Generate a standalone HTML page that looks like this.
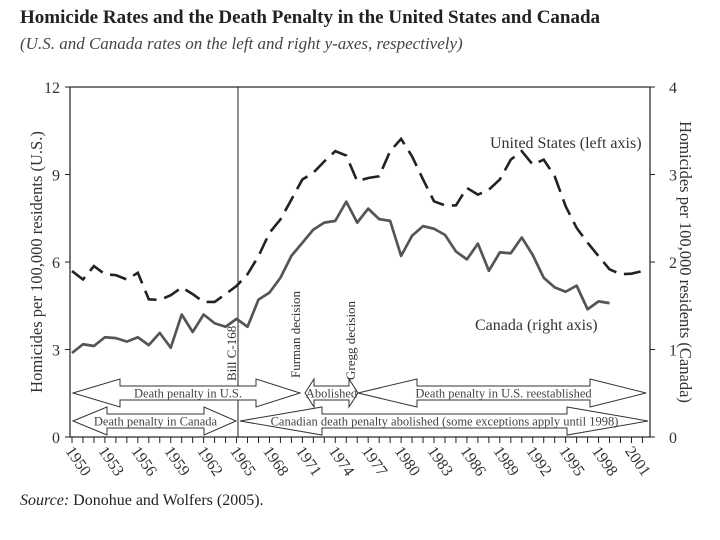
<!DOCTYPE html>
<html><head><meta charset="utf-8"><style>
body{margin:0;background:#fff;width:720px;height:540px;overflow:hidden}
svg{display:block;font-family:"Liberation Serif",serif}
text{font-family:"Liberation Serif",serif}
</style></head><body>
<svg id="c" width="720" height="540">
<text x="20" y="23" font-size="19" font-weight="bold" fill="#222" font-family="Liberation Serif, serif">Homicide Rates and the Death Penalty in the United States and Canada</text>
<text x="20" y="49" font-size="17" font-style="italic" fill="#444" font-family="Liberation Serif, serif">(U.S. and Canada rates on the left and right y-axes, respectively)</text>
<text x="20" y="505" font-size="16" fill="#222" font-family="Liberation Serif, serif"><tspan font-style="italic">Source:</tspan> Donohue and Wolfers (2005).</text>
<g id="plot"></g>
</svg>
<script>
const years=[1950,1951,1952,1953,1954,1955,1956,1957,1958,1959,1960,1961,1962,1963,1964,1965,1966,1967,1968,1969,1970,1971,1972,1973,1974,1975,1976,1977,1978,1979,1980,1981,1982,1983,1984,1985,1986,1987,1988,1989,1990,1991,1992,1993,1994,1995,1996,1997,1998,1999,2000,2001,2002];
const usRates=[5.69,5.4,5.86,5.58,5.55,5.4,5.63,4.72,4.7,4.86,5.13,4.9,4.63,4.63,4.9,5.18,5.58,6.2,7.0,7.46,8.14,8.83,9.06,9.45,9.8,9.65,8.77,8.88,8.94,9.8,10.22,9.62,8.83,8.08,7.94,7.94,8.54,8.31,8.48,8.83,9.51,9.8,9.34,9.51,8.94,7.91,7.17,6.66,6.2,5.75,5.58,5.6,5.69];
const canadaYears=[1950,1951,1952,1953,1954,1955,1956,1957,1958,1959,1960,1961,1962,1963,1964,1965,1966,1967,1968,1969,1970,1971,1972,1973,1974,1975,1976,1977,1978,1979,1980,1981,1982,1983,1984,1985,1986,1987,1988,1989,1990,1991,1992,1993,1994,1995,1996,1997,1998,1999];
const canadaRates=[0.96,1.06,1.04,1.14,1.13,1.09,1.14,1.05,1.19,1.02,1.40,1.20,1.40,1.30,1.26,1.35,1.26,1.57,1.65,1.82,2.07,2.22,2.37,2.45,2.47,2.69,2.45,2.61,2.49,2.47,2.07,2.30,2.41,2.38,2.31,2.12,2.03,2.21,1.90,2.11,2.10,2.28,2.08,1.82,1.71,1.66,1.73,1.46,1.55,1.53];
const leftTicks=[0,3,6,9,12];
const rightTicks=[0,1,2,3,4];
const xLabels=[1950,1953,1956,1959,1962,1965,1968,1971,1974,1977,1980,1983,1986,1989,1992,1995,1998,2001];

const NS="http://www.w3.org/2000/svg";
const L=70,R=650,T=87,B=437;
const x=y=>72+(y-1950)*10.97;
const yL=v=>B-v*(B-T)/12;
const yR=v=>B-v*(B-T)/4;
const g=document.getElementById('plot');
function mk(tag,attrs,parent){const e=document.createElementNS(NS,tag);for(const k in attrs)e.setAttribute(k,attrs[k]);if(tag==='text')e.setAttribute('font-family','Liberation Serif, serif');(parent||g).appendChild(e);return e;}

let e;
e=mk('rect',{x:L,y:T,width:R-L,height:B-T,fill:'none',stroke:'#222','stroke-width':1.2});



leftTicks.forEach(v=>{
  let t=mk('line',{x1:L-5,x2:L,y1:yL(v),y2:yL(v),stroke:'#222'});
  
  
  let s=mk('text',{x:L-10,y:yL(v)+6,'text-anchor':'end','font-size':16,fill:'#333'});s.textContent=v;
  
  
});
rightTicks.forEach(v=>{
  let t=mk('line',{x1:R,x2:R+5,y1:yR(v),y2:yR(v),stroke:'#222'});
  
  
  let s=mk('text',{x:R+23,y:yR(v)+6,'text-anchor':'middle','font-size':16,fill:'#333'});s.textContent=v;
  
  
});
for(let yr=1950;yr<=2002;yr++){
  let t=mk('line',{x1:x(yr),x2:x(yr),y1:B,y2:B+6,stroke:'#222'});
  
  
}
xLabels.forEach(yr=>{
  let s=mk('text',{x:0,y:0,'font-size':16,fill:'#333',transform:`translate(${x(yr)-7},${B+14}) rotate(55)`});s.textContent=yr;
  
  
});
e=mk('text',{x:0,y:0,'font-size':16.5,fill:'#333','text-anchor':'middle',transform:'translate(42,262) rotate(-90)'});
e.textContent='Homicides per 100,000 residents (U.S.)';


e=mk('text',{x:0,y:0,'font-size':16.5,fill:'#333','text-anchor':'middle',transform:'translate(680,262) rotate(90)'});
e.textContent='Homicides per 100,000 residents (Canada)';



e=mk('line',{x1:238,x2:238,y1:T,y2:B,stroke:'#222','stroke-width':1});


[['Bill C-168',236,381],['Furman decision',300,378],['Gregg decision',355,380]].forEach(a=>{
  let s=mk('text',{x:0,y:0,'font-size':13,fill:'#333',transform:`translate(${a[1]},${a[2]}) rotate(-90)`});s.textContent=a[0];
  
  
});

e=mk('path',{d:years.map((yr,i)=>(i?'L':'M')+x(yr)+','+yL(usRates[i])).join(''),fill:'none',stroke:'#222','stroke-width':2.6,'stroke-dasharray':'17,8'});


e=mk('path',{d:canadaYears.map((yr,i)=>(i?'L':'M')+x(yr)+','+yR(canadaRates[i])).join(''),fill:'none',stroke:'#555','stroke-width':2.7,'stroke-linejoin':'round'});


e=mk('text',{x:490,y:148,'font-size':16,fill:'#333'});e.textContent='United States (left axis)';


e=mk('text',{x:475,y:330,'font-size':16,fill:'#333'});e.textContent='Canada (right axis)';



function arrow(x1,h1,h2,x2,cy,hh,sh,label,name){
  const d=`M${x1},${cy}L${h1},${cy-hh}L${h1},${cy-sh}L${h2},${cy-sh}L${h2},${cy-hh}L${x2},${cy}L${h2},${cy+hh}L${h2},${cy+sh}L${h1},${cy+sh}L${h1},${cy+hh}Z`;
  let p=mk('path',{d:d,fill:'#fff',stroke:'#333','stroke-width':1});
  
  
  let s=mk('text',{x:(h1+h2)/2,y:cy+4.5,'text-anchor':'middle','font-size':12.5,fill:'#444'});s.textContent=label;
  
  
}
arrow(73,120,256,300,393,14,7,'Death penalty in U.S.','us-death-penalty');
arrow(305,314,349,358,393,14,7,'Abolished','us-abolished');
arrow(358,417,590,646,393,14,7,'Death penalty in U.S. reestablished','us-reestablished');
arrow(73,107,204,236,421,14,7,'Death penalty in Canada','canada-death-penalty');
arrow(240,322,567,648,421,14,7,'Canadian death penalty abolished (some exceptions apply until 1998)','canada-abolished');
</script>
</body></html>
